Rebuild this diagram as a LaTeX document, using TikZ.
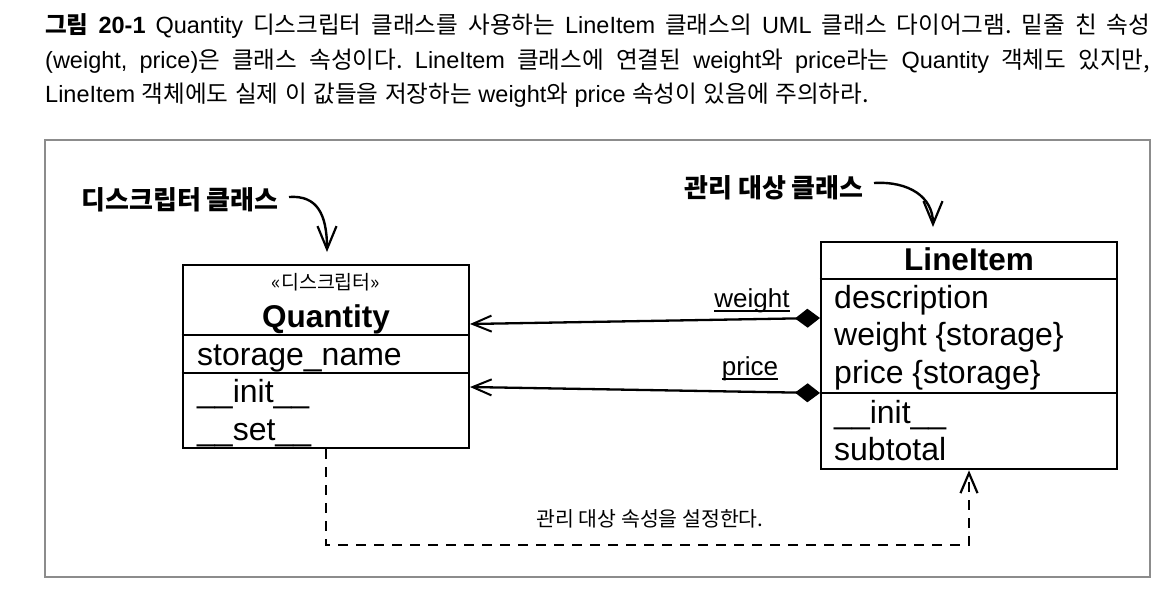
\documentclass[tikz,border=0pt]{standalone}
\usepackage{fontspec}
\setmainfont{Liberation Sans}
\newfontfamily\kr{Noto Sans CJK KR}
\usetikzlibrary{arrows.meta}
\frenchspacing
\newcommand\myul[1]{\setbox0\hbox{#1}\rlap{\rule[-4.5pt]{\wd0}{1.6pt}}\box0}
\newcommand\K[1]{{\kr\fontsize{23.6}{28}\selectfont #1}}
\tikzset{
  umlbox/.style={draw, line width=2.6pt, inner sep=0pt},
  sepline/.style={line width=2.6pt},
  attr/.style={anchor=base west, inner sep=0pt, font=\fontsize{32}{38}\selectfont},
  ttl/.style={anchor=base, inner sep=0pt, font=\fontsize{31.5}{38}\selectfont\bfseries},
  lbl/.style={inner sep=0pt, font=\kr\fontsize{26}{30}\selectfont\bfseries},
  captxt/.style={anchor=base west, inner sep=0pt, font=\fontsize{23.5}{28}\selectfont},
  assoc/.style={line width=2.3pt, {Straight Barb[length=19pt,width=16pt,line width=2pt]}-{Diamond[length=25pt,width=19pt]}},
  callout/.style={line width=2.4pt, -{Straight Barb[length=23pt,width=19pt,line width=2.2pt]}},
  dep/.style={line width=2.7pt, dash pattern=on 10pt off 8pt, -{Straight Barb[length=20pt,width=17pt,line width=2.2pt]}}
}
\begin{document}
\begin{tikzpicture}[x=1pt,y=-1pt]
\useasboundingbox (0,0) rectangle (1176,598);
% caption
\node[captxt] (c1) at (45,33) {\makebox[1105pt][s]{\K{\bfseries 그림} \textbf{20-1} Quantity \K{디스크립터} \K{클래스를} \K{사용하는} LineItem \K{클래스의} UML \K{클래스} \K{다이어그램.} \K{밑줄} \K{친} \K{속성}}};
\node[captxt] (c2) at (45,68) {\makebox[1105pt][s]{(weight, price)\K{은} \K{클래스} \K{속성이다.} LineItem \K{클래스에} \K{연결된} weight\K{와} price\K{라는} Quantity \K{객체도} \K{있지만,}}};
\node[captxt] (c3) at (45,102) {LineItem \K{객체에도} \K{실제} \K{이} \K{값들을} \K{저장하는} weight\K{와} price \K{속성이} \K{있음에} \K{주의하라.}};
% frame
\draw[line width=1.8pt, black!45] (45,140) rectangle (1150,577);
% Quantity box
\node[umlbox, minimum width=286pt, minimum height=183pt] (q) at (326,356.5) {};
\draw[sepline] (q.west |- 0,335) -- (q.east |- 0,335);
\draw[sepline] (q.west |- 0,373) -- (q.east |- 0,373);
\node[anchor=base, inner sep=0pt, font=\kr\fontsize{19.5}{22}\selectfont] (st) at (326,289) {«디스크립터»};
\node[ttl] (qn) at (326,327) {Quantity};
\node[attr] (q1) at (197,365) {storage\_name};
\node[attr] (q2) at (197,402) {\_\_init\_\_};
\node[attr] (q3) at (197,440) {\_\_set\_\_};
% LineItem box
\node[umlbox, minimum width=296pt, minimum height=227pt] (li) at (969,355.5) {};
\draw[sepline] (li.west |- 0,279) -- (li.east |- 0,279);
\draw[sepline] (li.west |- 0,393) -- (li.east |- 0,393);
\node[ttl] (ln) at (969,270) {LineItem};
\node[attr] (l1) at (834,308) {description};
\node[attr] (l2) at (834,345) {weight \{storage\}};
\node[attr] (l3) at (834,383) {price \{storage\}};
\node[attr] (l4) at (834,423) {\_\_init\_\_};
\node[attr] (l5) at (834,460) {subtotal};
% associations
\coordinate (qw) at (470,324);
\coordinate (lw) at (820,318);
\coordinate (qp) at (470,387);
\coordinate (lp) at (820,393);
\draw[assoc] (qw) -- (lw);
\draw[assoc] (qp) -- (lp);
\node[anchor=base, inner sep=0pt, font=\fontsize{26}{30}\selectfont] (wl) at (752,307) {\myul{weight}};
\node[anchor=base, inner sep=0pt, font=\fontsize{26}{30}\selectfont] (pl) at (750,375) {\myul{price}};
% callout labels
\node[lbl] (d1) at (180,200) {디스크립터 클래스};
\node[lbl] (d2) at (774,188) {관리 대상 클래스};
\coordinate (s1) at (289,197);
\coordinate (s2) at (874,183);
\coordinate (t1) at (327,252);
\coordinate (t2) at (933,227);
\draw[callout] (s1) .. controls +(28,-2) and +(0,-38) .. (t1);
\draw[callout] (s2) .. controls +(35,-2) and +(0,-30) .. (t2);
% dependency
\coordinate (b1) at (q.south |- 0,545);
\coordinate (b2) at (li.south |- 0,545);
\draw[dep] (q.south) -- (b1) -- (b2) -- (li.south);
\node[inner sep=0pt, font=\kr\fontsize{20.5}{24}\selectfont] (dl) at (650,519) {관리 대상 속성을 설정한다.};
\end{tikzpicture}
\end{document}
